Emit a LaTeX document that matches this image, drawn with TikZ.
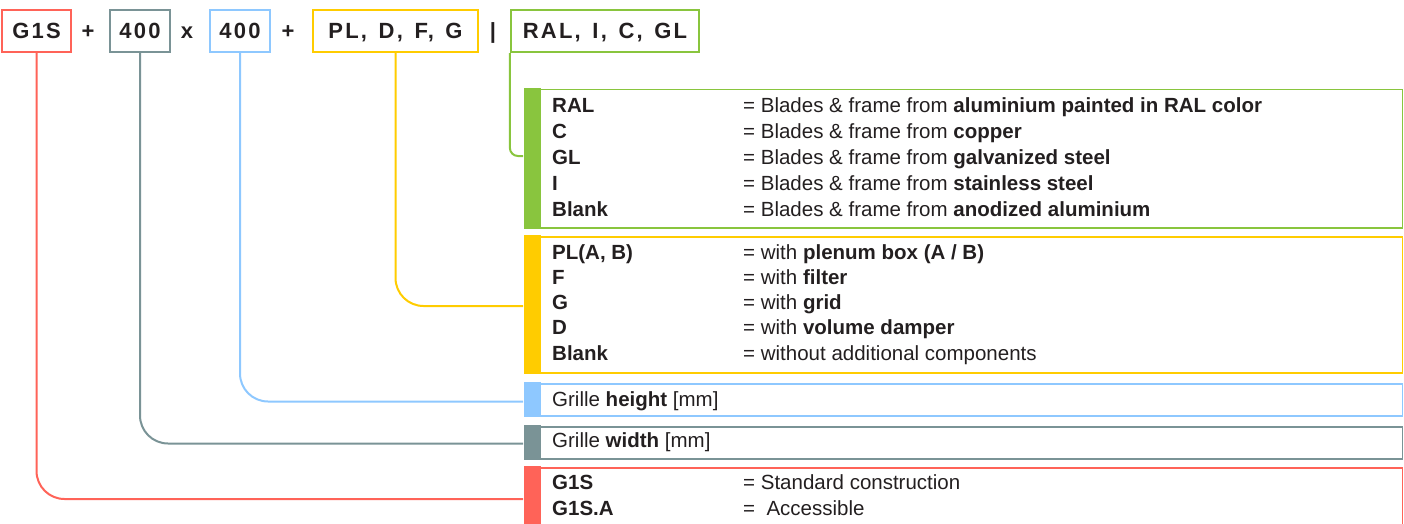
\documentclass[tikz,border=0pt]{standalone}
\usepackage{fontspec}
\setmainfont{Liberation Sans}
\newfontfamily\spacedfont[LetterSpace=10,WordSpace=1.4]{Liberation Sans}
\definecolor{cred}{RGB}{255,99,88}
\definecolor{cgray}{RGB}{122,147,150}
\definecolor{cblue}{RGB}{142,200,255}
\definecolor{cyellow}{RGB}{255,204,0}
\definecolor{cgreen}{RGB}{137,197,62}
\definecolor{corange}{RGB}{240,160,40}
\definecolor{txt}{RGB}{35,31,32}
\begin{document}
\begin{tikzpicture}[x=1pt,y=-1pt,
  topbox/.style={draw, line width=2.2pt, minimum height=42pt, inner sep=0pt,
    text height=15.6pt, text depth=0pt, text=txt,
    font=\spacedfont\bfseries\fontsize{22}{24}\selectfont},
  sepsign/.style={inner sep=0pt, text height=15.6pt, text depth=0pt, text=txt,
    font=\bfseries\fontsize{22}{24}\selectfont},
  legbox/.style={draw, line width=1.5pt, anchor=north west, inner sep=0pt, minimum width=878pt},
  keytext/.style={anchor=base west, inner sep=0pt, text=txt, font=\bfseries\fontsize{20.5}{24}\selectfont},
  desctext/.style={anchor=base west, inner sep=0pt, text=txt, font=\fontsize{20.5}{24}\selectfont},
  conn/.style={line width=2pt, rounded corners=28pt}
]
\useasboundingbox (0,0) rectangle (1404,524);

% top code boxes
\node[topbox, draw=cred, minimum width=69pt] (tred) at (36.5,31) {G1S};
\node[sepsign] (plusa) at (88,31) {+};
\node[topbox, draw=cgray, minimum width=60pt] (tgray) at (140,31) {400};
\node[sepsign] (times) at (187,31) {x};
\node[topbox, draw=cblue, minimum width=60pt] (tblue) at (240,31) {400};
\node[sepsign] (plusb) at (288,31) {+};
\node[topbox, draw=cyellow, minimum width=165pt] (tyellow) at (395.5,31) {PL, D, F, G};
\node[sepsign] (bar) at (493,31) {|};
\node[topbox, draw=cgreen, minimum width=188pt] (tgreen) at (605,31) {RAL, I, C, GL};

% connector end points
\coordinate (gin) at (523,156);
\coordinate (yin) at (523,306);
\coordinate (bin) at (523,401.5);
\coordinate (grin) at (523,443.5);
\coordinate (rin) at (523,499);

\draw[conn, cgreen, rounded corners=8pt] (tgreen.south west) |- (gin);
\draw[conn, cyellow] (tyellow.south) |- (yin);
\draw[conn, cblue] (tblue.south) |- (bin);
\draw[conn, cgray] (tgray.south) |- (grin);
\draw[conn, cred] (tred.south) |- (rin);

% legend boxes
\node[legbox, draw=cgreen, minimum height=138pt] (lgreen) at (523.5,89) {};
\node[legbox, draw=cyellow, minimum height=136pt] (lyellow) at (523.5,236) {};
\node[legbox, draw=cblue, minimum height=32pt] (lblue) at (523.5,383) {};
\node[legbox, draw=cgray, minimum height=32pt] (lgray) at (523.5,426) {};
\node[legbox, draw=cred, minimum height=93pt] (lred) at (523.5,467) {};

\fill[cgreen] ([yshift=0.75pt]lgreen.north west) rectangle ([xshift=17pt,yshift=-0.75pt]lgreen.south west);
\fill[cyellow] ([yshift=0.75pt]lyellow.north west) rectangle ([xshift=17pt,yshift=-0.75pt]lyellow.south west);
\fill[cblue] ([yshift=0.75pt]lblue.north west) rectangle ([xshift=17pt,yshift=-0.75pt]lblue.south west);
\fill[cgray] ([yshift=0.75pt]lgray.north west) rectangle ([xshift=17pt,yshift=-0.75pt]lgray.south west);
\fill[cred] ([yshift=0.75pt]lred.north west) rectangle ([xshift=17pt,yshift=-0.75pt]lred.south west);

% green rows
\node[keytext] (k1) at (552,113) {RAL};
\node[desctext] (d1) at (743,113) {= Blades \& frame from \textbf{aluminium painted in RAL color}};
\node[keytext] (k2) at (552,138.75) {C};
\node[desctext] (d2) at (743,138.75) {= Blades \& frame from \textbf{copper}};
\node[keytext] (k3) at (552,164.5) {GL};
\node[desctext] (d3) at (743,164.5) {= Blades \& frame from \textbf{galvanized steel}};
\node[keytext] (k4) at (552,190.25) {I};
\node[desctext] (d4) at (743,190.25) {= Blades \& frame from \textbf{stainless steel}};
\node[keytext] (k5) at (552,216) {Blank};
\node[desctext] (d5) at (743,216) {= Blades \& frame from \textbf{anodized aluminium}};

% yellow rows
\node[keytext] (k6) at (552,259) {PL(A, B)};
\node[desctext] (d6) at (743,259) {= with \textbf{plenum box (A / B)}};
\node[keytext] (k7) at (552,284.25) {F};
\node[desctext] (d7) at (743,284.25) {= with \textbf{filter}};
\node[keytext] (k8) at (552,309.5) {G};
\node[desctext] (d8) at (743,309.5) {= with \textbf{grid}};
\node[keytext] (k9) at (552,334.75) {D};
\node[desctext] (d9) at (743,334.75) {= with \textbf{volume damper}};
\node[keytext] (k10) at (552,360) {Blank};
\node[desctext] (d10) at (743,360) {= without additional components};

% blue / gray rows
\node[desctext] (d11) at (552,406) {Grille \textbf{height} [mm]};
\node[desctext] (d12) at (552,447) {Grille \textbf{width} [mm]};

% red rows
\node[keytext] (k13) at (552,489.5) {G1S};
\node[desctext] (d13) at (743,489.5) {= Standard construction};
\node[keytext] (k14) at (552,515) {G1S.A};
\node[desctext] (d14) at (743,515) {= \ Accessible};

% cut-off heading (only its top shows at the lower edge)
\node[anchor=base west, inner sep=0pt, text=corange, font=\bfseries\fontsize{24}{28}\selectfont] (example) at (10,542) {Example};
\end{tikzpicture}
\end{document}
